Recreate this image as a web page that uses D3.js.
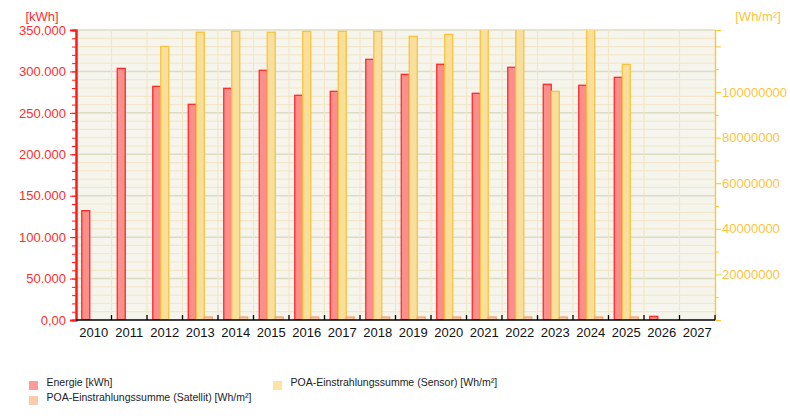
<!DOCTYPE html>
<html>
<head>
<meta charset="utf-8">
<script src="https://cdn.jsdelivr.net/npm/d3@7"></script>
<style>
  body { margin: 0; background: #fff; }
  svg text { font-family: "Liberation Sans", Arial, sans-serif; }
</style>
</head>
<body>
<svg id="chart"></svg>
<script>
const years = ["2010","2011","2012","2013","2014","2015","2016","2017","2018","2019","2020","2021","2022","2023","2024","2025","2026","2027"];
const energie = [132000, 303700, 282000, 260300, 279600, 301400, 271200, 276000, 314600, 296500, 308600, 273600, 305000, 284500, 283300, 292900, 4400, null];
const sensor = [null, null, 120.0e6, 126.2e6, 126.6e6, 126.2e6, 126.6e6, 126.6e6, 126.6e6, 124.4e6, 125.3e6, 130e6, 130e6, 100.3e6, 130e6, 112.1e6, null, null];
const satellit = [null, null, null, 1.3e6, 1.3e6, 1.3e6, 1.3e6, 1.3e6, 1.3e6, 1.3e6, 1.3e6, 1.3e6, 1.3e6, 1.3e6, 1.3e6, 1.3e6, null, null];
const leftTicks = [0, 50000, 100000, 150000, 200000, 250000, 300000, 350000];
const rightTicks = [20e6, 40e6, 60e6, 80e6, 100e6];

const width = 790, height = 420;
const mLeft = 76, mRight = 715, mTop = 30, mBottom = 320;

const svg = d3.select("#chart")
              .attr("width", width)
              .attr("height", height);

const x = d3.scaleBand().domain(years).range([mLeft, mRight]);
const xSub = d3.scaleBand()
               .domain(["energie", "sensor", "satellit"])
               .range([0, x.bandwidth()])
               .paddingOuter(0.72);
const yL = d3.scaleLinear().domain([0, 350000]).range([mBottom, mTop]);
const yR = d3.scaleLinear().domain([0, 127.2e6]).range([mBottom, mTop]);

const de = d3.formatLocale({ decimal: ",", thousands: ".", grouping: [3], currency: ["", "€"] });
const fmtL = d => d === 0 ? "0,00" : de.format(",")(d);

// plot background
svg.append("rect")
   .attr("x", mLeft).attr("y", mTop)
   .attr("width", mRight - mLeft).attr("height", mBottom - mTop)
   .attr("fill", "#f5f5ee");

// horizontal grid
svg.append("g")
   .selectAll("line")
   .data(d3.range(10000, 350001, 10000))
   .enter()
   .append("line")
   .attr("x1", mLeft).attr("x2", mRight)
   .attr("y1", d => yL(d)).attr("y2", d => yL(d))
   .attr("stroke", d => d % 50000 === 0 ? "#dcdcc2" : "#f4e7c9")
   .attr("stroke-width", d => d % 50000 === 0 ? 1.5 : 1.2);

// vertical grid at category borders
svg.append("g")
   .selectAll("line")
   .data(years.slice(1))
   .enter()
   .append("line")
   .attr("x1", d => x(d)).attr("x2", d => x(d))
   .attr("y1", mTop).attr("y2", mBottom)
   .attr("stroke", "#f2e6c8")
   .attr("stroke-width", 1.2);

svg.append("clipPath").attr("id", "plotclip")
   .append("rect")
   .attr("x", mLeft).attr("y", mTop)
   .attr("width", mRight - mLeft).attr("height", mBottom - mTop);

const series = [
    { key: "energie", values: energie, y: yL, fill: "#fa8f8c", stroke: "#ff2a2a" },
    { key: "sensor", values: sensor, y: yR, fill: "#f9df9c", stroke: "#fbc23e" },
    { key: "satellit", values: satellit, y: yR, fill: "#f9c9a6", stroke: "#f4a472" }
];

const bars = svg.append("g").attr("clip-path", "url(#plotclip)");
series.forEach(s => {
    bars.append("g")
        .selectAll("rect")
        .data(years.map((yr, i) => ({ yr, v: s.values[i] })).filter(d => d.v != null))
        .enter()
        .append("rect")
        .attr("x", d => x(d.yr) + xSub(s.key))
        .attr("y", d => s.y(d.v))
        .attr("width", xSub.bandwidth())
        .attr("height", d => mBottom - s.y(d.v))
        .attr("fill", s.fill)
        .attr("stroke", s.stroke)
        .attr("stroke-width", 1.3);
});

// left axis
const gL = svg.append("g").attr("transform", `translate(${mLeft},0)`);
gL.append("g").call(d3.axisLeft(yL).tickValues(d3.range(0, 350001, 10000)).tickSize(4).tickFormat(""));
gL.append("g").call(d3.axisLeft(yL).tickValues(leftTicks).tickSize(6).tickPadding(4).tickFormat(fmtL));
gL.selectAll("path, line").attr("stroke", "#ff1a1a");
gL.selectAll(".domain").attr("stroke-width", 2);
gL.selectAll("text").attr("fill", "#ff2d2d").attr("font-size", 13)
  .attr("font-family", "Liberation Sans, Arial, sans-serif");

svg.append("text")
   .attr("x", 42).attr("y", 21)
   .attr("text-anchor", "middle")
   .attr("fill", "#ff2d2d").attr("font-size", 13)
   .text("[kWh]");

// right axis
const gR = svg.append("g").attr("transform", `translate(${mRight},0)`);
gR.append("g").call(d3.axisRight(yR).tickValues(d3.range(10e6, 120e6, 20e6)).tickSize(4).tickFormat(""));
gR.append("g").call(d3.axisRight(yR).tickValues([0, ...rightTicks, 120e6]).tickSize(6).tickPadding(1)
          .tickFormat(d => rightTicks.includes(d) ? d3.format("d")(d) : ""));
gR.selectAll("path, line").attr("stroke", "#fcc535");
gR.selectAll(".domain").attr("stroke-width", 1.2);
gR.selectAll("text").attr("fill", "#fcc43c").attr("font-size", 13)
  .attr("font-family", "Liberation Sans, Arial, sans-serif");

svg.append("text")
   .attr("x", 758).attr("y", 21)
   .attr("text-anchor", "middle")
   .attr("fill", "#fcc43c").attr("font-size", 13)
   .text("[Wh/m²]");

// x axis
const gX = svg.append("g").attr("transform", `translate(0,${mBottom})`);
gX.append("line")
  .attr("x1", mLeft).attr("x2", mRight)
  .attr("stroke", "#000").attr("stroke-width", 1.5);
gX.selectAll("line.tick")
  .data(years.slice(1).concat(["end"]))
  .enter()
  .append("line")
  .attr("class", "tick")
  .attr("x1", d => d === "end" ? mRight : x(d))
  .attr("x2", d => d === "end" ? mRight : x(d))
  .attr("y1", -5).attr("y2", 0)
  .attr("stroke", "#000").attr("stroke-width", 1.3);
gX.selectAll("text")
  .data(years)
  .enter()
  .append("text")
  .attr("x", d => x(d) + x.bandwidth() / 2)
  .attr("y", 17)
  .attr("text-anchor", "middle")
  .attr("font-size", 13)
  .attr("fill", "#111")
  .text(d => d);

// legend
const legend = [
    { label: "Energie [kWh]", color: "#fc9a9a", x: 29, y: 381 },
    { label: "POA-Einstrahlungssumme (Satellit) [Wh/m²]", color: "#fdcbaa", x: 29, y: 396 },
    { label: "POA-Einstrahlungssumme (Sensor) [Wh/m²]", color: "#fde4a4", x: 273, y: 381 }
];
const lg = svg.append("g")
              .selectAll("g")
              .data(legend)
              .enter()
              .append("g")
              .attr("transform", d => `translate(${d.x},${d.y})`);
lg.append("rect")
  .attr("width", 9).attr("height", 9)
  .attr("fill", d => d.color);
lg.append("text")
  .attr("x", 17.5)
  .attr("y", 4.5)
  .attr("font-size", 10.5)
  .attr("fill", "#222")
  .text(d => d.label);
</script>
</body>
</html>
